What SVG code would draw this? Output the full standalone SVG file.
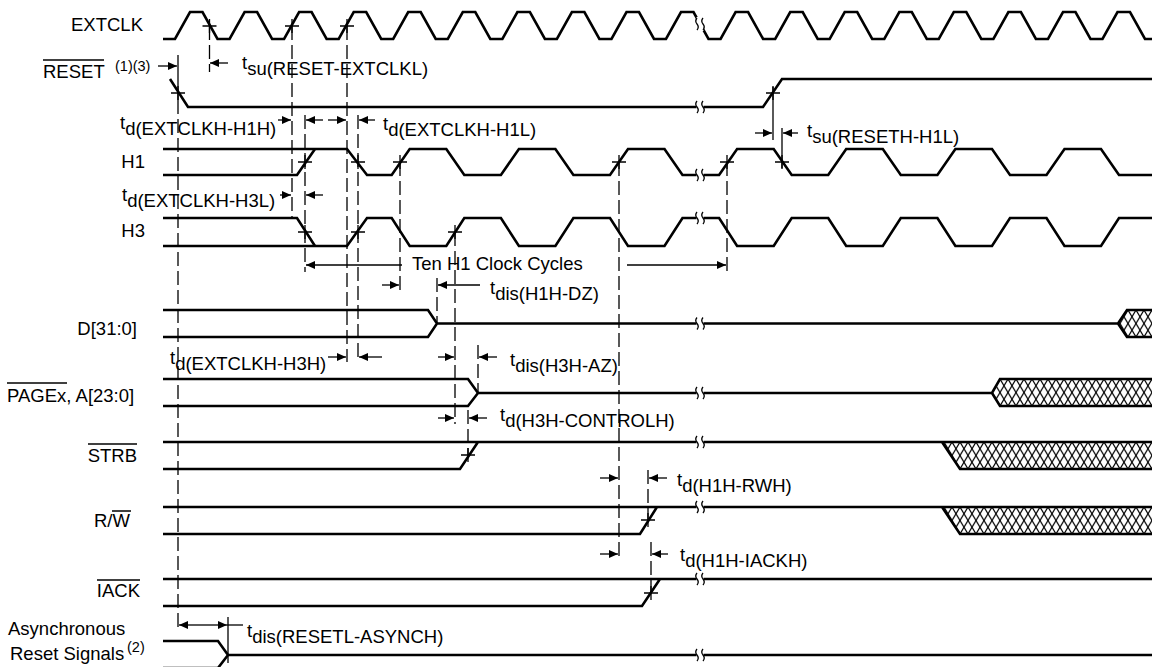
<svg xmlns="http://www.w3.org/2000/svg" width="1152" height="667" viewBox="0 0 1152 667">
<style>
.l{font-family:"Liberation Sans",Arial,sans-serif;font-size:18.5px;fill:#000}
.s{font-family:"Liberation Sans",Arial,sans-serif;font-size:14.5px;fill:#000}
.sig{fill:none;stroke:#000;stroke-width:2.6;stroke-linejoin:miter}
.thin{fill:none;stroke:#000;stroke-width:1.3}
.dash{fill:none;stroke:#000;stroke-width:1.3;stroke-dasharray:14 5}
.ar{fill:none;stroke:#000;stroke-width:1.3;marker-end:url(#ah)}
.ov{stroke:#000;stroke-width:1.5}
.bm{fill:none;stroke:#000;stroke-width:1.3}
</style>
<defs>
<marker id="ah" markerUnits="userSpaceOnUse" markerWidth="9" markerHeight="8" refX="9" refY="4" orient="auto"><path d="M0,0 L9,4 L0,8 z" fill="#000"/></marker>
<pattern id="hD" patternUnits="userSpaceOnUse" x="0" y="310" width="8" height="13.5"><path d="M0,0 L8,13.5 M8,0 L0,13.5" stroke="#000" stroke-width="1.2" fill="none"/></pattern>
<pattern id="hA" patternUnits="userSpaceOnUse" x="0" y="379" width="8" height="13.5"><path d="M0,0 L8,13.5 M8,0 L0,13.5" stroke="#000" stroke-width="1.2" fill="none"/></pattern>
<pattern id="hS" patternUnits="userSpaceOnUse" x="0" y="442" width="8" height="13.5"><path d="M0,0 L8,13.5 M8,0 L0,13.5" stroke="#000" stroke-width="1.2" fill="none"/></pattern>
<pattern id="hR" patternUnits="userSpaceOnUse" x="0" y="507" width="8" height="13.5"><path d="M0,0 L8,13.5 M8,0 L0,13.5" stroke="#000" stroke-width="1.2" fill="none"/></pattern>
<g id="brk"><rect x="-3.5" y="-7" width="7" height="14" fill="#fff"/><path class="bm" d="M-3,-6 q-2.5,3 0,6 q2.5,3 0,6 M3,-6 q-2.5,3 0,6 q2.5,3 0,6"/></g>
<path id="cx" d="M-7,0 H7 M0,-7 V7" stroke="#000" stroke-width="1.3"/>
</defs>
<rect width="1152" height="667" fill="#fff"/>

<!-- Labels -->
<g id="labels">
<text class="l" x="143" y="31" text-anchor="end">EXTCLK</text>
<text class="l" x="43" y="78">RESET</text><line class="ov" x1="43" y1="60" x2="104" y2="60"/>
<text class="s" x="115" y="71">(1)(3)</text>
<text class="l" x="145" y="168" text-anchor="end">H1</text>
<text class="l" x="145" y="237" text-anchor="end">H3</text>
<text class="l" x="137" y="335" text-anchor="end">D[31:0]</text>
<text class="l" x="7" y="402">PAGEx, A[23:0]</text><line class="ov" x1="7" y1="383" x2="67" y2="383"/>
<text class="l" x="137" y="462" text-anchor="end">STRB</text><line class="ov" x1="88" y1="444" x2="137" y2="444"/>
<text class="l" x="94" y="527">R/W</text><line class="ov" x1="112" y1="511" x2="131" y2="511"/>
<text class="l" x="140" y="597" text-anchor="end">IACK</text><line class="ov" x1="97" y1="580" x2="140" y2="580"/>
<text class="l" x="8" y="635">Asynchronous</text>
<text class="l" x="10" y="660">Reset Signals</text><text class="s" x="127" y="652">(2)</text>
</g>

<!-- Signals -->
<g id="EXTCLK">
<path class="sig" d="M163,39 L175,39 L190,12 L202.5,12 L217.5,39 L229.6,39 L244.6,12 L257.1,12 L272.1,39 L284.1,39 L299.1,12 L311.6,12 L326.6,39 L338.7,39 L353.7,12 L366.2,12 L381.2,39 L393.2,39 L408.2,12 L420.7,12 L435.7,39 L447.8,39 L462.8,12 L475.3,12 L490.3,39 L502.4,39 L517.4,12 L529.9,12 L544.9,39 L556.9,39 L571.9,12 L584.4,12 L599.4,39 L611.5,39 L626.5,12 L639,12 L654,39 L666,39 L681,12 L693.5,12 L708.5,39 L720.6,39 L735.6,12 L748.1,12 L763.1,39 L775.2,39 L790.2,12 L802.7,12 L817.7,39 L829.7,39 L844.7,12 L857.2,12 L872.2,39 L884.3,39 L899.3,12 L911.8,12 L926.8,39 L938.8,39 L953.8,12 L966.3,12 L981.3,39 L993.4,39 L1008.4,12 L1020.9,12 L1035.9,39 L1048,39 L1063,12 L1075.5,12 L1090.5,39 L1102.5,39 L1117.5,12 L1130,12 L1145,39 L1152,39"/>
<use href="#brk" x="700" y="24"/>
</g>
<g id="RESET">
<path class="sig" d="M170,79 L188,107 L763,107 L782,79 L1152,79"/>
<use href="#brk" x="700" y="107"/>
</g>
<g id="H1">
<path class="sig" d="M163,175 L297,175 L315,149"/>
<path class="sig" d="M163,149 L347,149 L367,175 L391.7,175 L409.7,149 L446.3,149 L464.3,175 L500.9,175 L518.9,149 L555.4,149 L573.4,175 L610,175 L628,149 L664.5,149 L682.5,175 L719.1,175 L737.1,149 L773.7,149 L791.7,175 L828.2,175 L846.2,149 L882.8,149 L900.8,175 L937.4,175 L955.4,149 L992,149 L1010,175 L1046.5,175 L1064.5,149 L1101,149 L1119,175 L1152,175"/>
<use href="#brk" x="700" y="175"/>
</g>
<g id="H3">
<path class="sig" d="M163,218 L297,218 L315,246"/>
<path class="sig" d="M163,246 L347,246 L367,218 L391.7,218 L409.7,246 L446.3,246 L464.3,218 L500.9,218 L518.9,246 L555.4,246 L573.4,218 L610,218 L628,246 L664.5,246 L682.5,218 L719.1,218 L737.1,246 L773.7,246 L791.7,218 L828.2,218 L846.2,246 L882.8,246 L900.8,218 L937.4,218 L955.4,246 L992,246 L1010,218 L1046.5,218 L1064.5,246 L1101,246 L1119,218 L1152,218"/>
<use href="#brk" x="700" y="218"/>
</g>
<g id="D">
<path d="M1118,323.5 L1127,310 L1152,310 L1152,337 L1127,337 Z" fill="url(#hD)"/>
<path class="sig" d="M163,310 L428,310 L437,323.5 L428,337 L163,337 M437,323.5 L1118,323.5 L1127,310 L1152,310 M1118,323.5 L1127,337 L1152,337"/>
<use href="#brk" x="700" y="323.5"/>
</g>
<g id="PAGEx">
<path d="M992,393 L1000,379 L1152,379 L1152,406 L1000,406 Z" fill="url(#hA)"/>
<path class="sig" d="M163,379 L468,379 L478,393 L468,406 L163,406 M478,393 L992,393 L1000,379 L1152,379 M992,393 L1000,406 L1152,406"/>
<use href="#brk" x="700" y="393"/>
</g>
<g id="STRB">
<path d="M942,442 L1152,442 L1152,469 L960,469 Z" fill="url(#hS)"/>
<path class="sig" d="M163,442 L1152,442 M163,469 L460,469 L478,442 M942,442 L960,469 L1152,469"/>
<use href="#brk" x="700" y="442"/>
</g>
<g id="RW">
<path d="M942,507 L1152,507 L1152,534 L960,534 Z" fill="url(#hR)"/>
<path class="sig" d="M163,507 L1152,507 M163,534 L640,534 L657,507 M942,507 L960,534 L1152,534"/>
<use href="#brk" x="700" y="507"/>
</g>
<g id="IACK">
<path class="sig" d="M163,579 L1152,579 M163,606 L642,606 L660,579"/>
<use href="#brk" x="700" y="579"/>
</g>
<g id="ASYNC">
<path class="sig" d="M163,641 L218,641 L228,655 L218,668 L163,668 M228,655 L1152,655"/>
<use href="#brk" x="700" y="655"/>
</g>

<!-- Connectors: reference lines, arrows, crossing marks -->
<g id="connectors">
<line class="thin" x1="178" y1="55" x2="178" y2="100"/>
<line class="dash" x1="178" y1="100" x2="178" y2="630"/>
<line class="dash" x1="209.5" y1="26" x2="209.5" y2="72"/>
<line class="dash" x1="292" y1="26" x2="292" y2="218"/>
<line class="dash" x1="305" y1="115" x2="305" y2="272"/>
<line class="dash" x1="347" y1="26" x2="347" y2="362"/>
<line class="dash" x1="358" y1="115" x2="358" y2="362"/>
<line class="dash" x1="400" y1="162" x2="400" y2="292"/>
<line class="dash" x1="437" y1="278" x2="437" y2="323"/>
<line class="dash" x1="455" y1="232" x2="455" y2="424"/>
<line class="dash" x1="468" y1="410" x2="468" y2="455"/>
<line class="dash" x1="478" y1="345" x2="478" y2="393"/>
<line class="dash" x1="619" y1="162" x2="619" y2="560"/>
<line class="dash" x1="648" y1="470" x2="648" y2="520"/>
<line class="dash" x1="651" y1="542" x2="651" y2="593"/>
<line class="dash" x1="727" y1="162" x2="727" y2="274"/>
<line class="thin" x1="773" y1="87" x2="773" y2="140"/>
<line class="thin" x1="782" y1="128" x2="782" y2="168"/>
<line class="thin" x1="228" y1="617" x2="228" y2="663"/>

<line class="ar" x1="158" y1="66" x2="177" y2="66"/>
<line class="ar" x1="228" y1="63" x2="210" y2="63"/>
<line class="ar" x1="278" y1="120" x2="291" y2="120"/>
<line class="ar" x1="323" y1="120" x2="306" y2="120"/>
<line class="ar" x1="328" y1="120" x2="346" y2="120"/>
<line class="ar" x1="375" y1="120" x2="359" y2="120"/>
<line class="ar" x1="755" y1="133" x2="772" y2="133"/>
<line class="ar" x1="798" y1="133" x2="783" y2="133"/>
<line class="ar" x1="280" y1="195" x2="291" y2="195"/>
<line class="ar" x1="323" y1="195" x2="306" y2="195"/>
<line class="ar" x1="402" y1="265" x2="306" y2="265"/>
<line class="ar" x1="627" y1="265" x2="726" y2="265"/>
<line class="ar" x1="382" y1="285" x2="399" y2="285"/>
<line class="ar" x1="480" y1="285" x2="438" y2="285"/>
<line class="ar" x1="328" y1="357" x2="346" y2="357"/>
<line class="ar" x1="382" y1="357" x2="359" y2="357"/>
<line class="ar" x1="438" y1="357" x2="454" y2="357"/>
<line class="ar" x1="497" y1="357" x2="479" y2="357"/>
<line class="ar" x1="438" y1="418" x2="454" y2="418"/>
<line class="ar" x1="487" y1="418" x2="469" y2="418"/>
<line class="ar" x1="600" y1="478" x2="618" y2="478"/>
<line class="ar" x1="667" y1="478" x2="649" y2="478"/>
<line class="ar" x1="600" y1="554" x2="618" y2="554"/>
<line class="ar" x1="668" y1="554" x2="652" y2="554"/>
<line class="thin" x1="227" y1="625" x2="243" y2="625"/>
<line class="ar" x1="200" y1="625" x2="179" y2="625"/>
<line class="ar" x1="200" y1="625" x2="227" y2="625"/>

<use href="#cx" x="209.5" y="26"/>
<use href="#cx" x="292" y="26"/>
<use href="#cx" x="347" y="26"/>
<use href="#cx" x="178" y="93"/>
<use href="#cx" x="773" y="93"/>
<use href="#cx" x="305" y="162"/>
<use href="#cx" x="358" y="162"/>
<use href="#cx" x="400" y="162"/>
<use href="#cx" x="619" y="162"/>
<use href="#cx" x="727" y="162"/>
<use href="#cx" x="782" y="162"/>
<use href="#cx" x="305" y="232"/>
<use href="#cx" x="358" y="232"/>
<use href="#cx" x="455" y="232"/>
<use href="#cx" x="468" y="455"/>
<use href="#cx" x="648" y="520"/>
<use href="#cx" x="651" y="593"/>
</g>

<g id="timing-labels">
<text class="l" x="242" y="69">t<tspan dy="6">su(RESET-EXTCLKL)</tspan></text>
<text class="l" x="120" y="129">t<tspan dy="6">d(EXTCLKH-H1H)</tspan></text>
<text class="l" x="383" y="130">t<tspan dy="6">d(EXTCLKH-H1L)</tspan></text>
<text class="l" x="807" y="137">t<tspan dy="6">su(RESETH-H1L)</tspan></text>
<text class="l" x="122" y="201">t<tspan dy="6">d(EXTCLKH-H3L)</tspan></text>
<text class="l" x="412" y="270">Ten H1 Clock Cycles</text>
<text class="l" x="490" y="294">t<tspan dy="6">dis(H1H-DZ)</tspan></text>
<text class="l" x="170" y="364">t<tspan dy="6">d(EXTCLKH-H3H)</tspan></text>
<text class="l" x="510" y="366">t<tspan dy="6">dis(H3H-AZ)</tspan></text>
<text class="l" x="500" y="421">t<tspan dy="6">d(H3H-CONTROLH)</tspan></text>
<text class="l" x="677" y="486">t<tspan dy="6">d(H1H-RWH)</tspan></text>
<text class="l" x="680" y="561">t<tspan dy="6">d(H1H-IACKH)</tspan></text>
<text class="l" x="247" y="637">t<tspan dy="6">dis(RESETL-ASYNCH)</tspan></text>
</g>
</svg>
